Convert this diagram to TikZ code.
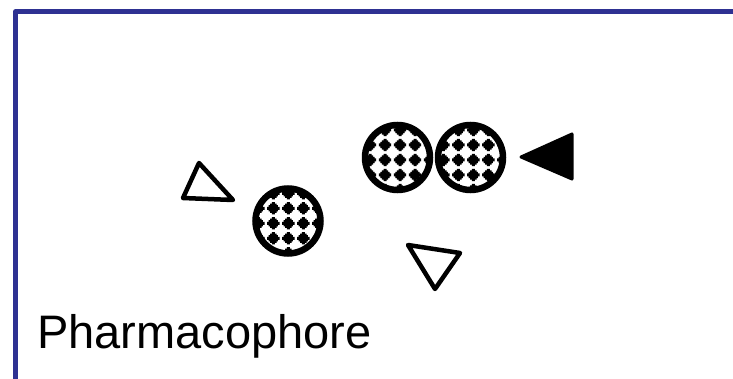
\documentclass[tikz,border=0pt]{standalone}
\usepackage{fontspec}
\setmainfont{Liberation Sans}
\definecolor{frameblue}{RGB}{46,49,146}
\tikzset{
  frameline/.style={draw=frameblue, line width=5pt, line join=round},
  ring/.style={circle, draw=black, line width=6.5pt, minimum size=65pt, inner sep=0pt},
  hollowtri/.style={draw=black, line width=4.5pt, line join=round},
  solidtri/.style={draw=black, fill=black, line width=3pt, line join=round},
  labeltext/.style={anchor=base west, inner sep=0pt, font=\fontsize{47}{52}\selectfont}
}
% one stepped diamond of the fill pattern, centred at the current point
\newcommand\stepdot[2]{%
  \fill (#1,#2) +(-1.5,-6.2) rectangle +(1.5,6.2)
                +(-6.2,-1.5) rectangle +(6.2,1.5)
                +(-3.2,-4.6) rectangle +(3.2,4.6)
                +(-4.6,-3.2) rectangle +(4.6,3.2);
}
% ring filled with a grid of stepped diamonds
% #1 name, #2/#3 centre, #4/#5 one diamond of the grid
\newcommand\patring[5]{%
  \begin{scope}
    \clip (#2,#3) circle (32.5);
    \foreach \i in {-3,...,3}{%
      \foreach \j in {-3,...,3}{%
        \stepdot{#4+15*\i}{#5+15*\j}
      }%
    }
  \end{scope}
  \node[ring] (#1) at (#2,#3) {};
}
\begin{document}
\begin{tikzpicture}[x=1pt, y=-1pt]
  \useasboundingbox (0,0) rectangle (733,379);
  % frame
  \draw[frameline] (740,11.5) -- (15.8,11.5) -- (15.8,386);
  % rings
  \patring{ringA}{288}{221}{288.3}{223.3}
  \patring{ringB}{397.5}{157.5}{400}{160}
  \patring{ringC}{470.5}{157.5}{473.3}{160}
  % triangles
  \draw[hollowtri] (199,163) -- (183,198) -- (233,200) -- cycle;
  \draw[hollowtri] (408,245) -- (460,253) -- (435,289) -- cycle;
  \draw[solidtri] (521,157) -- (572,134) -- (572,179) -- cycle;
  % caption
  \node[labeltext] (caption) at (37,348) {Pharmacophore};
\end{tikzpicture}
\end{document}
